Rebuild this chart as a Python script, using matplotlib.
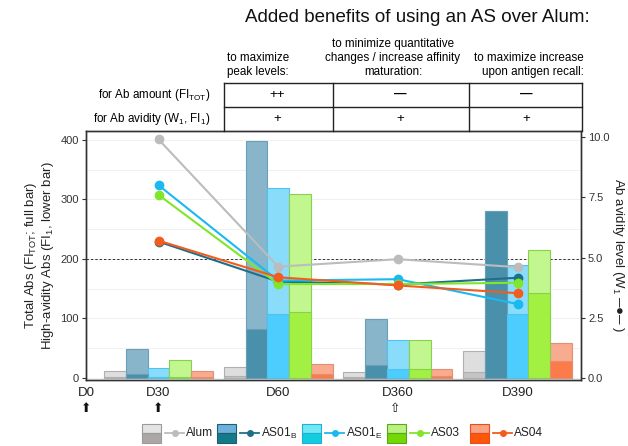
import numpy as np
import matplotlib
matplotlib.use('Agg')
import matplotlib.pyplot as plt
from matplotlib.patches import Rectangle

plt.rcParams['font.family'] = ['Liberation Sans', 'DejaVu Sans']
plt.rcParams['mathtext.fontset'] = 'custom'
plt.rcParams['mathtext.rm'] = 'Liberation Sans'
plt.rcParams['mathtext.it'] = 'Liberation Sans:italic'

# data
timepoints = ['D30', 'D60', 'D360', 'D390']
groups = ['Alum', 'AS01B', 'AS01E', 'AS03', 'AS04']
labels = ['Alum', 'AS01$_{\\rm B}$', 'AS01$_{\\rm E}$', 'AS03', 'AS04']

fi_tot_alum = [11, 18, 10, 45]
fi_tot_as01b = [48, 398, 99, 281]
fi_tot_as01e = [17, 319, 64, 190]
fi_tot_as03 = [31, 309, 64, 215]
fi_tot_as04 = [11, 23, 15, 58]

fi1_alum = [1, 4, 2, 10]
fi1_as01b = [6, 82, 22, 281]
fi1_as01e = [1, 107, 15, 108]
fi1_as03 = [2, 111, 15, 142]
fi1_as04 = [2, 6, 4, 29]

w1_alum = [9.9, 4.62, 4.93, 4.6]
w1_as01b = [5.66, 4.0, 3.88, 4.16]
w1_as01e = [8.0, 4.04, 4.1, 3.07]
w1_as03 = [7.6, 3.9, 3.9, 3.95]
w1_as04 = [5.7, 4.18, 3.84, 3.52]

fi_tot = [fi_tot_alum, fi_tot_as01b, fi_tot_as01e, fi_tot_as03, fi_tot_as04]
fi1 = [fi1_alum, fi1_as01b, fi1_as01e, fi1_as03, fi1_as04]
w1 = [w1_alum, w1_as01b, w1_as01e, w1_as03, w1_as04]

# styles
bar_top = ['#dedede', '#88b5c9', '#8adcfb', '#c2f68e', '#f9ab90']
bar_low = ['#c4c4c4', '#4a90aa', '#4ccdfd', '#a2f041', '#fb7c4a']
bar_edge = ['#b0b0b0', '#6a9fb8', '#4fc3f0', '#86d24c', '#e58f72']
line_col = ['#bcbcbc', '#1f6f88', '#1ab9f2', '#80e62a', '#f25c1e']
leg_top = ['#e3e3e3', '#6cb0dc', '#72e8f6', '#bcf082', '#fba382']
leg_low = ['#aba7a7', '#137a8a', '#12cde0', '#72d806', '#ff5707']
leg_edge = ['#9a9a9a', '#1d5f70', '#20b0d0', '#5aa81a', '#e05020']

W, H = 628, 446
fig = plt.figure(figsize=(W / 100, H / 100), dpi=100)
ax = fig.add_axes([86 / W, 66 / H, 495 / W, 249 / H])
ax2 = ax.twinx()

x = np.arange(1, len(timepoints) + 1)
bw = 0.182
for i in range(len(groups)):
    xi = x + (i - 2) * bw
    ax.bar(xi, fi_tot[i], width=bw, color=bar_top[i], edgecolor=bar_edge[i], linewidth=0.8, zorder=2)
    ax.bar(xi, fi1[i], width=bw, color=bar_low[i], edgecolor=bar_edge[i], linewidth=0.8, zorder=3)

for i in range(len(groups)):
    ax2.plot(x, w1[i], color=line_col[i], lw=1.5, marker='o', markersize=6, zorder=4)

ax.axhline(200, color='#333333', lw=0.7, ls=(0, (2.5, 2)), zorder=1)
ax.set_xlim(0.394, 4.53)
ax.set_ylim(-3.4, 415)
ax2.set_ylim(-0.083, 10.25)
ax.set_yticks([0, 100, 200, 300, 400])
ax.set_yticks([50, 150, 250, 350], minor=True)
ax.grid(True, which='both', axis='y', color='#f0f0f0', lw=0.7, zorder=0)
ax.set_axisbelow(True)
ax2.set_yticks([0, 2.5, 5, 7.5, 10])
ax2.set_yticklabels(['0.0', '2.5', '5.0', '7.5', '10.0'])

ax.set_xticks([0.394] + list(x))
ax.set_xticklabels(['D0'] + timepoints, fontsize=9.5)
ax.get_xticklabels()[0].set_color('#9a9a9a')
ax.tick_params(axis='x', length=0, pad=5, colors='#222222')
ax.tick_params(axis='y', which='major', length=3, labelsize=8, colors='#333333', pad=2)
ax.tick_params(axis='y', which='minor', length=0)
ax2.tick_params(axis='y', length=3, labelsize=8, colors='#333333', pad=2)
for a in (ax, ax2):
    for s in a.spines.values():
        s.set_color('#333333')
        s.set_linewidth(1.0)

ax.set_ylabel('Total Abs (FI$_{\\rm TOT}$; full bar)\nHigh-avidity Abs (FI$_{\\rm 1}$, lower bar)',
              fontsize=9.5, color='#222222', labelpad=3, linespacing=1.1)
ax2.set_ylabel('Ab avidity level (W$_{\\rm 1}$ \u2500\u25cf\u2500 )', fontsize=9.5, rotation=270,
               color='#222222', labelpad=12)

# overlay in pixel coordinates for table, title, arrows and legend
ov = fig.add_axes([0, 0, 1, 1])
ov.set_xlim(0, W)
ov.set_ylim(H, 0)
ov.axis('off')
ov.patch.set_alpha(0)

ov.text(590, 18, 'Added benefits of using an AS over Alum:', fontsize=13.5, ha='right', va='center', color='#111111')

hdr = 8.4
ov.text(289, 65, 'to maximize\npeak levels:', fontsize=hdr, ha='right', va='center', multialignment='right', linespacing=1.25)
ov.text(393, 58, 'to minimize quantitative\nchanges / increase affinity\nmaturation:', fontsize=hdr, ha='center', va='center',
        multialignment='center', linespacing=1.25)
ov.text(584, 65, 'to maximize increase\nupon antigen recall:', fontsize=hdr, ha='right', va='center', multialignment='right',
        linespacing=1.25)
for yy in (83, 107):
    ov.plot([224, 582], [yy, yy], color='#222222', lw=1.0)
for xx in (224, 333, 469, 582):
    ov.plot([xx, xx], [83, 131], color='#222222', lw=1.0)
ov.text(210, 95, 'for Ab amount (FI$_{\\rm TOT}$)', fontsize=hdr, ha='right', va='center')
ov.text(210, 119, 'for Ab avidity (W$_{\\rm 1}$, FI$_{\\rm 1}$)', fontsize=hdr, ha='right', va='center')
cells_row1 = ['++', '\u2014', '\u2014']
cells_row2 = ['+', '+', '+']
for cx, t1, t2 in zip((277, 400, 526), cells_row1, cells_row2):
    if t1 == '++':
        ov.text(cx, 95, t1, fontsize=9.5, ha='center', va='center')
    else:
        ov.text(cx, 94, t1, fontsize=9, ha='center', va='center', fontweight='bold')
    ov.text(cx, 119, t2, fontsize=9.5, ha='center', va='center')

# immunisation arrows
for ax_x, sym in ((86, '\u2b06'), (158, '\u2b06'), (395, '\u21e7')):
    ov.text(ax_x, 409, sym, fontsize=9, ha='center', va='center', family=['DejaVu Sans'], color='#111111')

# legend
leg_x = [142, 217, 302, 387, 470]
ly = 433
for i in range(len(groups)):
    x0 = leg_x[i]
    ov.add_patch(Rectangle((x0, ly - 9.5), 19, 9.5, facecolor=leg_top[i], edgecolor=leg_edge[i], lw=0.8))
    ov.add_patch(Rectangle((x0, ly), 19, 9.5, facecolor=leg_low[i], edgecolor=leg_edge[i], lw=0.8))
    ov.plot([x0 + 23, x0 + 42], [ly, ly], color=line_col[i], lw=1.3)
    ov.plot([x0 + 32.5], [ly], 'o', color=line_col[i], markersize=4)
    ov.text(x0 + 44, ly, labels[i], fontsize=8.6, ha='left', va='center', color='#222222')

fig.savefig('out.png', dpi=100)
